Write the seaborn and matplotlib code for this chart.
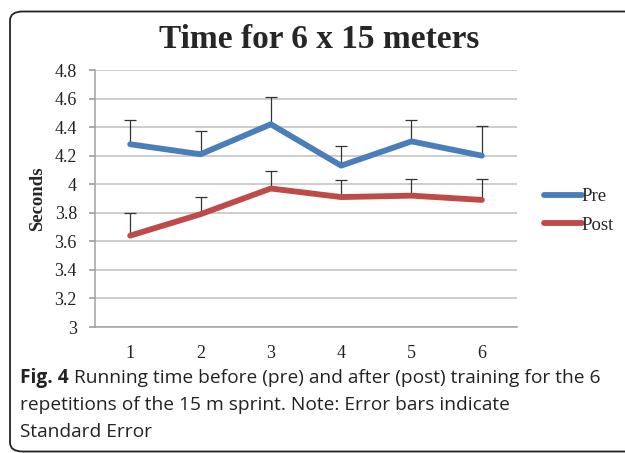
import pandas as pd
import matplotlib.pyplot as plt
import seaborn as sns
from matplotlib.patches import FancyBboxPatch

# =========================
# DATA
# =========================
reps = [1, 2, 3, 4, 5, 6]
pre_mean = [4.28, 4.21, 4.42, 4.13, 4.30, 4.20]
pre_se = [0.17, 0.16, 0.19, 0.14, 0.15, 0.21]
post_mean = [3.64, 3.79, 3.97, 3.91, 3.92, 3.89]
post_se = [0.16, 0.12, 0.12, 0.12, 0.12, 0.15]
y_ticks = [3, 3.2, 3.4, 3.6, 3.8, 4, 4.2, 4.4, 4.6, 4.8]
y_labels = ["3", "3.2", "3.4", "3.6", "3.8", "4", "4.2", "4.4", "4.6", "4.8"]

df = pd.DataFrame({
    "rep": reps * 2,
    "seconds": pre_mean + post_mean,
    "group": ["Pre"] * 6 + ["Post"] * 6,
})

colors = {"Pre": "#4A7EBB", "Post": "#BE4B48"}

# =========================
# STYLE
# =========================
sns.set_theme(style="white")
serif = "Liberation Serif"

fig = plt.figure(figsize=(6.25, 4.53), dpi=100)
ax = fig.add_axes([95 / 625, 1 - 327 / 453, 422 / 625, 257 / 453])

# rounded frame around the chart
frame = FancyBboxPatch((10 / 625, 1.5 / 453), 700 / 625, 440 / 453,
                       boxstyle="round,pad=0,rounding_size=0.02",
                       transform=fig.transFigure, fill=False,
                       edgecolor="#222222", linewidth=1.3, clip_on=False)
fig.patches.append(frame)

# =========================
# ERROR BARS (upper only)
# =========================
for mean, se in [(pre_mean, pre_se), (post_mean, post_se)]:
    eb = ax.errorbar(reps, mean, yerr=[[0] * 6, se], fmt="none",
                     ecolor="#333333", elinewidth=0.9, capsize=4,
                     capthick=0.9, zorder=2)
    eb[1][0].set_visible(False)

# =========================
# LINES
# =========================
sns.lineplot(data=df, x="rep", y="seconds", hue="group", palette=colors,
             linewidth=4.2, ax=ax, zorder=3, legend=False)

ax.set_xlim(0.5, 6.5)
ax.set_ylim(3, 4.8)
ax.set_yticks(y_ticks)
ax.set_yticklabels(y_labels, family=serif, fontsize=13, color="#222222")
ax.set_xticks(reps)
ax.set_xticklabels([str(r) for r in reps], family=serif, fontsize=13,
                   color="#222222")
ax.tick_params(axis="y", length=4, color="#a0a0a0", pad=9, left=True)
ax.tick_params(axis="x", length=0, pad=13)
ax.grid(axis="y", color="#c0c0c0", linewidth=1.1)
ax.set_axisbelow(True)
for side in ["top", "right"]:
    ax.spines[side].set_visible(False)
for side in ["left", "bottom"]:
    ax.spines[side].set_color("#a0a0a0")
    ax.spines[side].set_linewidth(1.1)

ax.set_xlabel("")
ax.set_ylabel("Seconds", family=serif, fontweight="bold", fontsize=13.5,
              labelpad=6)

# legend
handles = [plt.Line2D([], [], color=colors[g], linewidth=4.2) for g in ["Pre", "Post"]]
fig.legend(handles, ["Pre", "Post"], loc="center left",
           bbox_to_anchor=(535 / 625, 1 - 211 / 453), frameon=False,
           borderpad=0, handlelength=2.0, handletextpad=0.0, labelspacing=0.6,
           prop={"family": serif, "size": 13.5})

# title
fig.text(319 / 625, 1 - 40 / 453, "Time for 6 x 15 meters", family=serif,
         fontweight="bold", fontsize=24, ha="center", va="center")

# caption
cap_kw = dict(family="Open Sans", fontsize=13.8, va="center", color="#222222")
fig_lbl = fig.text(20 / 625, 1 - 378 / 453, "Fig. 4", fontweight="bold", **cap_kw)
renderer = fig.canvas.get_renderer()
bb = fig_lbl.get_window_extent(renderer)
fig.text(bb.x1 / 625 + 5 / 625, 1 - 378 / 453,
         "Running time before (pre) and after (post) training for the 6",
         **cap_kw)
fig.text(20 / 625, 1 - 405 / 453,
         "repetitions of the 15 m sprint. Note: Error bars indicate", **cap_kw)
fig.text(20 / 625, 1 - 432 / 453, "Standard Error", **cap_kw)

plt.savefig("out.png", dpi=100)
